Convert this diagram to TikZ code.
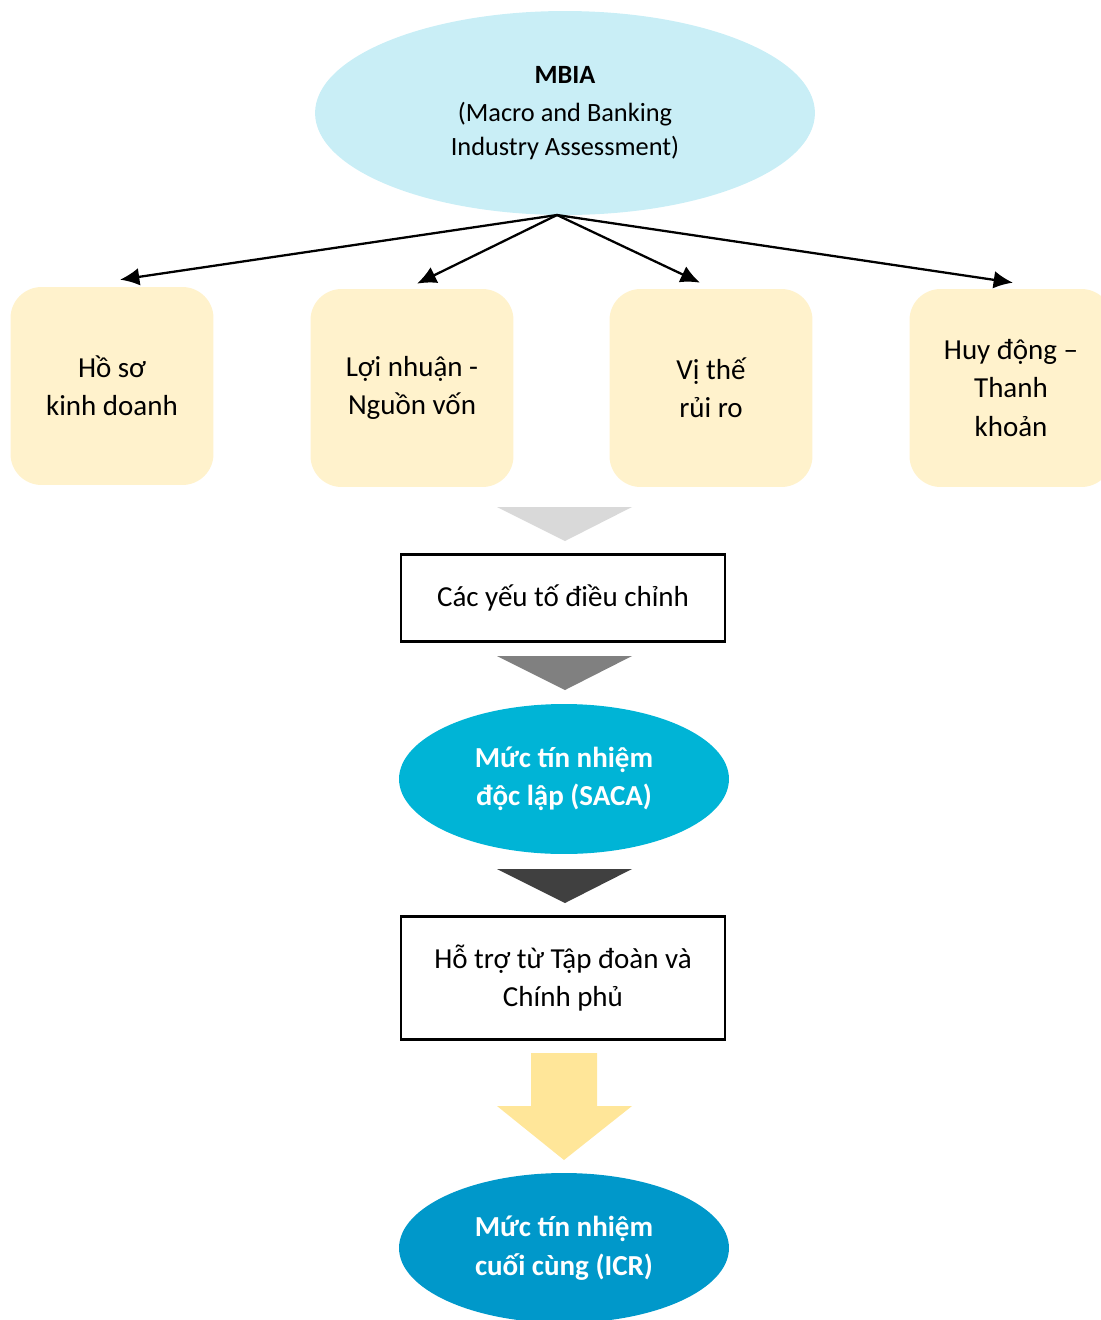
\documentclass[tikz,border=0pt]{standalone}
\usepackage{fontspec}
\setmainfont{Carlito}
\usetikzlibrary{shapes,arrows.meta,calc}
\definecolor{mbiafill}{HTML}{C9EEF6}
\definecolor{factorfill}{HTML}{FFF2CC}
\definecolor{sacafill}{HTML}{00B4D6}
\definecolor{icrfill}{HTML}{0098CA}
\definecolor{arrowyellow}{HTML}{FFE699}
\tikzstyle{line} = [draw, line width=1.3pt, -{Latex[length=11pt,width=10pt]}]
\tikzstyle{factor} = [rectangle, fill=factorfill, rounded corners=0.62cm, minimum width=4.06cm, minimum height=3.96cm, align=center]
\tikzstyle{block} = [draw, line width=1.2pt, rectangle, minimum width=6.48cm, align=center]
\tikzstyle{rating} = [ellipse, inner sep=0pt, minimum width=6.6cm, minimum height=3cm, text=white, font=\bfseries\fontsize{16.5}{21.8}\selectfont, align=center]

\begin{document}
\begin{tikzpicture}[x=0.02cm, y=-0.02cm, font=\fontsize{16.5}{21.8}\selectfont]
        \useasboundingbox (0,0) rectangle (1101,1320);
        \clip (0,0) rectangle (1101,1320);
        % top ellipse
        \node[ellipse, fill=mbiafill, inner sep=0pt, minimum width=10cm, minimum height=4.08cm, align=center, font=\fontsize{15}{19.3}\selectfont] (mbia) at (565,113)
            {\textbf{MBIA}\\[2pt](Macro and Banking\\Industry Assessment)};
        \coordinate (hub) at (557,215);
        % four factors
        \node[factor] (biz) at (112,386) {Hồ sơ\\kinh doanh};
        \node[factor] (profit) at (412,388) {Lợi nhuận -\\Nguồn vốn};
        \node[factor] (risk) at (711,388) {Vị thế\\rủi ro};
        \node[factor] (fund) at (1011,388) {Huy động –\\Thanh\\khoản};
        \path[line] (hub) -- ($(biz.north)+(8,-7)$);
        \path[line] (hub) -- ($(profit.north)+(5,-5)$);
        \path[line] (hub) -- ($(risk.north)+(-11,-6)$);
        \path[line] (hub) -- ($(fund.north)+(2,-6)$);
        % adjustments
        \fill[gray!30] (497,507) -- (632,507) -- (565,541) -- cycle;
        \node[block, minimum height=1.74cm] (adjust) at (563,598) {Các yếu tố điều chỉnh};
        \fill[gray] (497,656) -- (632,656) -- (565,690) -- cycle;
        \node[rating, fill=sacafill] (saca) at (564,779) {Mức tín nhiệm\\độc lập (SACA)};
        \fill[black!75] (497,869) -- (632,869) -- (565,903) -- cycle;
        \node[block, minimum height=2.46cm] (support) at (563,978) {Hỗ trợ từ Tập đoàn và\\Chính phủ};
        \fill[arrowyellow] (531,1053) -- (597,1053) -- (597,1106) -- (632,1106) -- (564,1160) -- (497,1106) -- (531,1106) -- cycle;
        \node[rating, fill=icrfill] (icr) at (564,1248) {Mức tín nhiệm\\cuối cùng (ICR)};
    \end{tikzpicture}
\end{document}
